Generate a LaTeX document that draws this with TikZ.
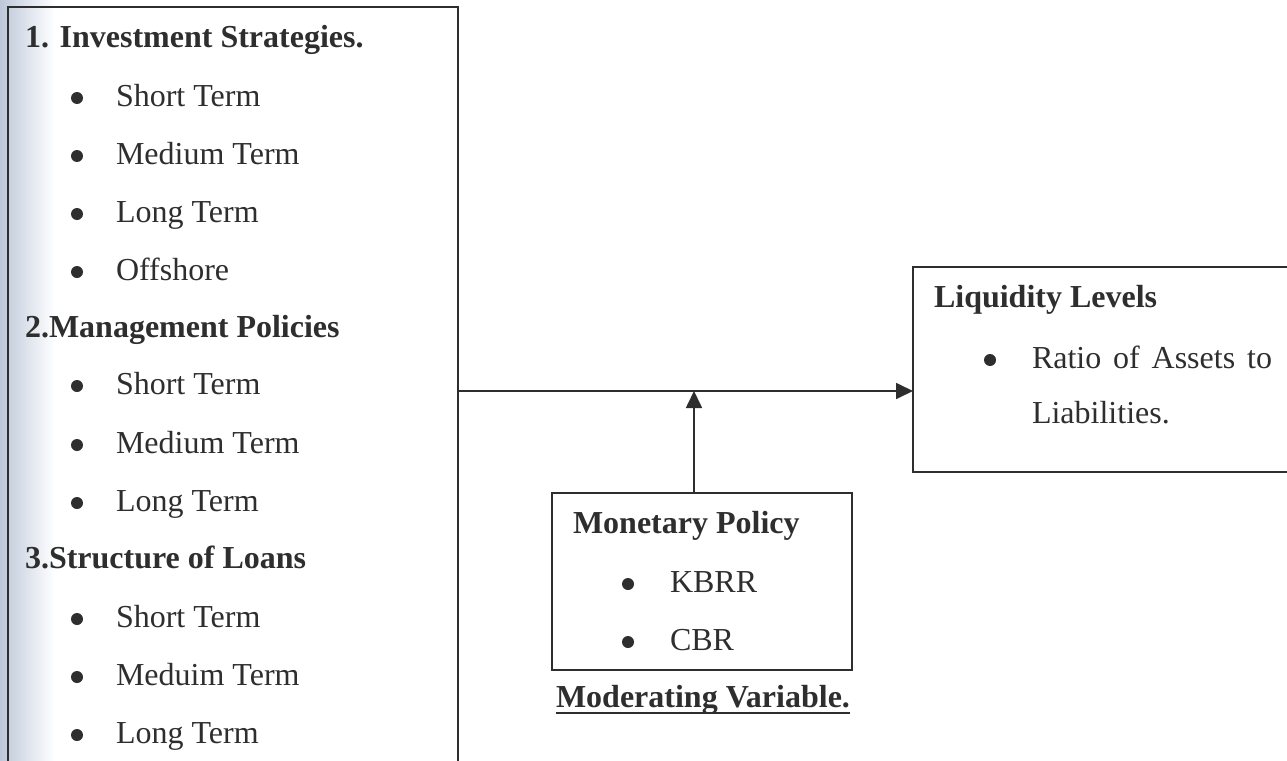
\documentclass[tikz,border=0pt]{standalone}
\usepackage{fontspec}
\setmainfont{Liberation Serif}
\usetikzlibrary{arrows.meta}
\definecolor{ink}{HTML}{2E2E2E}
\definecolor{scan}{RGB}{190,200,218}
\begin{document}
\begin{tikzpicture}[x=1pt,y=-1pt,
  every node/.style={inner sep=0pt,outer sep=0pt,text=ink},
  txt/.style={anchor=base west,font=\fontsize{32}{38}\selectfont},
  hd/.style={anchor=base west,font=\fontsize{32}{38}\selectfont\bfseries},
  bul/.style={circle,fill=ink,minimum size=12pt},
  box/.style={draw=ink,line width=1.7pt,anchor=north west},
  arr/.style={draw=ink,line width=1.7pt,-{Triangle[length=17pt,width=16pt]}}]
\useasboundingbox (0,0) rectangle (1287,760);
\clip (0,0) rectangle (1287,760);
\fill[white] (0,0) rectangle (1287,760);
\shade[left color=scan,right color=white] (0,0) rectangle (55,760);
% boxes
\node[box,minimum width=450pt,minimum height=800pt] (inv) at (8,7) {};
\node[box,minimum width=400pt,minimum height=205pt] (liq) at (913,267) {};
\node[box,minimum width=300pt,minimum height=177pt] (mon) at (552,493) {};
% left box text
\node[hd] (h1) at (25,48) {1. Investment Strategies.};
\node[bul] (b1) at (77,98) {};  \node[txt] (t1) at (116,106) {Short Term};
\node[bul] (b2) at (77,156) {}; \node[txt] (t2) at (116,164) {Medium Term};
\node[bul] (b3) at (77,214) {}; \node[txt] (t3) at (116,222) {Long Term};
\node[bul] (b4) at (77,272) {}; \node[txt] (t4) at (116,280) {Offshore};
\node[hd] (h2) at (25,337) {2.Management Policies};
\node[bul] (b5) at (77,386) {}; \node[txt] (t5) at (116,394) {Short Term};
\node[bul] (b6) at (77,445) {}; \node[txt] (t6) at (116,453) {Medium Term};
\node[bul] (b7) at (77,503) {}; \node[txt] (t7) at (116,511) {Long Term};
\node[hd] (h3) at (25,568) {3.Structure of Loans};
\node[bul] (b8) at (77,619) {};  \node[txt] (t8) at (116,627) {Short Term};
\node[bul] (b9) at (77,677) {};  \node[txt] (t9) at (116,685) {Meduim Term};
\node[bul] (b10) at (77,735) {}; \node[txt] (t10) at (116,743) {Long Term};
% liquidity
\node[hd] (lh) at (934,307) {Liquidity Levels};
\node[bul] (lb) at (990,360) {};
\node[txt] (lt1) at (1032,368) {\makebox[240pt][s]{Ratio of Assets to}};
\node[txt] (lt2) at (1032,423) {Liabilities.};
% monetary
\node[hd] (mh) at (573,533) {Monetary Policy};
\node[bul] (mb1) at (628,584) {}; \node[txt] (mt1) at (670,592) {KBRR};
\node[bul] (mb2) at (628,642) {}; \node[txt] (mt2) at (670,650) {CBR};
\node[hd] (mv) at (556,707) {Moderating Variable.};
\draw[ink,line width=2.4pt] ([yshift=-6pt]mv.base west) -- ([yshift=-6pt]mv.base east);
% connectors
\coordinate (j) at (694,391);
\draw[arr] (inv.east |- j) -- (liq.west |- j);
\draw[arr] (mon.north -| j) -- (j);
\end{tikzpicture}
\end{document}
